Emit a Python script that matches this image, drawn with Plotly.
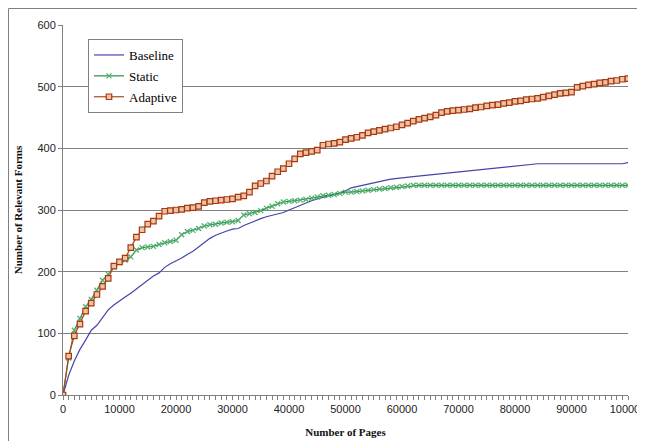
import plotly.graph_objects as go

# pages in thousands
pages_k = list(range(0, 101))

adaptive = [0, 63, 96, 115, 136, 149, 163, 176, 189, 209,
            216, 222, 239, 256, 268, 277, 282, 290, 298, 299,
            300, 301, 303, 304, 306, 312, 314, 315, 316, 317,
            318, 321, 323, 329, 339, 343, 347, 355, 362, 367,
            375, 383, 391, 393, 395, 397, 405, 407, 408, 410,
            414, 416, 418, 421, 425, 427, 429, 431, 433, 435,
            438, 441, 444, 447, 449, 451, 454, 458, 460, 461,
            462, 463, 464, 466, 467, 469, 470, 471, 473, 474,
            476, 477, 479, 480, 481, 483, 485, 487, 489, 490,
            491, 499, 501, 503, 504, 506, 507, 509, 510, 512,
            513]

static = [0, 60, 105, 124, 143, 155, 170, 186, 196, 208,
          215, 219, 224, 235, 239, 240, 241, 244, 247, 249,
          251, 260, 265, 267, 270, 274, 276, 277, 279, 280,
          281, 283, 292, 294, 296, 299, 303, 306, 310, 313,
          314, 315, 316, 317, 319, 321, 323, 324, 325, 327,
          329, 329, 330, 331, 332, 333, 334, 335, 336, 337,
          338, 339, 340, 340, 340, 340, 340, 340, 340, 340,
          340, 340, 340, 340, 340, 340, 340, 340, 340, 340,
          340, 340, 340, 340, 340, 340, 340, 340, 340, 340,
          340, 340, 340, 340, 340, 340, 340, 340, 340, 340,
          340]

baseline_k = [0, 1, 2, 3, 4, 5, 6, 7, 8, 9, 10, 11, 12, 13, 14, 15, 16, 17, 18, 19,
              20, 21, 22, 23, 24, 25, 26, 27, 28, 29, 30, 31, 32, 33, 34, 35, 36, 37, 38, 39,
              40, 41, 42, 43, 44, 45, 46, 47, 48, 49, 50, 51, 52, 55, 58, 62, 66, 70, 75, 80,
              84, 90, 95, 99, 100]
baseline = [0, 32, 55, 74, 89, 105, 113, 126, 138, 146, 153, 159, 165, 172, 178, 186, 193, 198, 207, 213,
            217, 222, 228, 233, 240, 247, 254, 259, 263, 266, 269, 270, 275, 279, 283, 286, 289, 291, 294, 296,
            300, 304, 308, 312, 315, 318, 321, 323, 325, 328, 331, 336, 338, 345, 350, 354, 358, 362, 366, 371,
            375, 375, 375, 375, 377]

x_ticks = [0, 10000, 20000, 30000, 40000, 50000, 60000, 70000, 80000, 90000, 100000]
y_ticks = [0, 100, 200, 300, 400, 500, 600]

pages = [k * 1000 for k in pages_k]
baseline_pages = [k * 1000 for k in baseline_k]

fig = go.Figure()
fig.add_trace(go.Scatter(
    x=baseline_pages, y=baseline, name="Baseline", mode="lines", legendgroup="a",
    line=dict(color="#4444AA", width=1.2)))
fig.add_trace(go.Scatter(
    x=pages, y=static, name="Static", mode="lines+markers", legendgroup="b",
    line=dict(color="#2E8B47", width=1.2),
    marker=dict(symbol="x-thin", size=5, line=dict(color="#52B070", width=1.3))))
fig.add_trace(go.Scatter(
    x=pages, y=adaptive, name="Adaptive", mode="lines+markers", legendgroup="c",
    line=dict(color="#B0451A", width=1.2),
    marker=dict(symbol="square", size=5.5, color="#EDC3A8",
                line=dict(color="#A8380E", width=1.2))))

# The page body has an 8px margin, so the figure starts at screen (8, 8).
OFF = 8
W, H = 645 - OFF, 441 - OFF
PL, PR, PT, PB = 63, 628, 25, 395  # plot area in screen pixels
L, R, T, B = PL - OFF, (W + OFF) - PR, PT - OFF, (H + OFF) - PB

def px(xs):
    return (xs - PL) / (PR - PL)

def py(ys):
    return (PB - ys) / (PB - PT)

fig.add_shape(type="rect", xref="paper", yref="paper",
              x0=px(8.5), x1=px(660), y0=py(450), y1=py(8.5),
              line=dict(color="#808080", width=1), fillcolor="rgba(0,0,0,0)", layer="below")

fig.update_layout(
    width=W, height=H,
    margin=dict(l=L, r=R, t=T, b=B, autoexpand=False),
    paper_bgcolor="white", plot_bgcolor="white",
    showlegend=True,
    legend=dict(x=px(88), y=py(39), xanchor="left", yanchor="top",
                bgcolor="white", bordercolor="#808080", borderwidth=1,
                font=dict(family="Liberation Serif", size=13, color="black"),
                itemwidth=30, tracegroupgap=1,
                entrywidth=62, entrywidthmode="pixels"),
    font=dict(family="Liberation Sans", size=11, color="#222"),
)
fig.update_xaxes(
    range=[0, 100000], tickvals=x_ticks, ticktext=[str(v) for v in x_ticks],
    automargin=False, ticklabeloverflow="allow",
    showgrid=False, zeroline=False, showline=True, linecolor="#808080", linewidth=1,
    ticks="outside", ticklen=4, tickcolor="#808080",
    minor=dict(dtick=1000, ticks="outside", ticklen=4, tickcolor="#808080", showgrid=False),
    tickfont=dict(family="Liberation Sans", size=11, color="#222"),
    title=dict(text="<b>Number of Pages</b>", font=dict(family="Liberation Serif", size=11, color="#111"), standoff=14),
)
fig.update_yaxes(
    range=[0, 600], tickvals=y_ticks,
    automargin=False,
    showgrid=True, gridcolor="#808080", gridwidth=1,
    zeroline=False, showline=True, linecolor="#808080", linewidth=1,
    ticks="outside", ticklen=4, tickcolor="#808080",
    tickfont=dict(family="Liberation Sans", size=11, color="#222"),
    title=dict(text="<b>Number of Relevant Forms</b>", font=dict(family="Liberation Serif", size=11, color="#111"), standoff=12),
)

fig.write_html("out.html")
